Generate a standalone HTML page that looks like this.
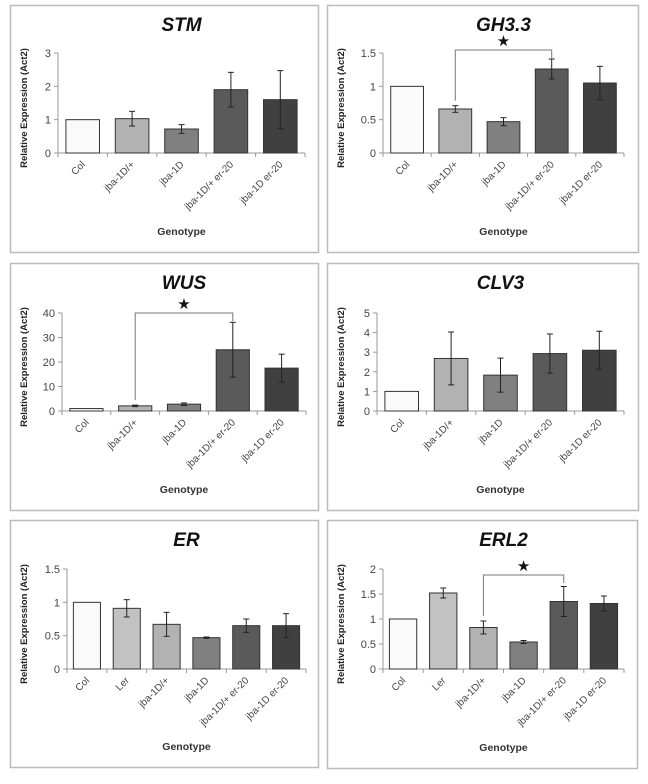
<!DOCTYPE html>
<html><head><meta charset="utf-8"><style>
body{margin:0;background:#fff;width:648px;height:779px;overflow:hidden}
svg text{font-family:"Liberation Sans",sans-serif}
</style></head><body>
<svg id="s" width="648" height="779" viewBox="0 0 648 779"></svg>
<script>
const catsA = ["Col","jba-1D/+","jba-1D","jba-1D/+ er-20","jba-1D  er-20"];
const catsB = ["Col","Ler","jba-1D/+","jba-1D","jba-1D/+ er-20","jba-1D er-20"];
const colA = ["#fafafa","#b2b2b2","#808080","#5a5a5a","#404040"];
const colB = ["#fafafa","#c2c2c2","#b2b2b2","#808080","#5a5a5a","#404040"];
const stmVals = [1,1.03,0.72,1.9,1.6];
const stmErr = [0,0.22,0.13,0.52,0.87];
const stmTicks = ["0","1","2","3"];
const ghVals = [1,0.66,0.47,1.26,1.05];
const ghErr = [0,0.05,0.06,0.15,0.25];
const ghTicks = ["0","0.5","1","1.5"];
const wusVals = [1,2.1,2.8,25,17.5];
const wusErr = [0,0.3,0.5,11.2,5.7];
const wusTicks = ["0","10","20","30","40"];
const clvVals = [1,2.68,1.83,2.93,3.1];
const clvErr = [0,1.35,0.87,1,0.97];
const clvTicks = ["0","1","2","3","4","5"];
const erVals = [1,0.91,0.67,0.47,0.65,0.65];
const erErr = [0,0.13,0.18,0.01,0.1,0.18];
const erTicks = ["0","0.5","1","1.5"];
const erl2Vals = [1,1.52,0.83,0.54,1.35,1.31];
const erl2Err = [0,0.1,0.13,0.03,0.3,0.15];
const erl2Ticks = ["0","0.5","1","1.5","2"];

const S=document.getElementById('s');const NS="http://www.w3.org/2000/svg";
function mk(t,a,p){const e=document.createElementNS(NS,t);for(const k in a)e.setAttribute(k,a[k]);(p||S).appendChild(e);return e;}
function panel(name,box,ax,title,cats,vals,errs,ticks,cols,sig){
  const g=mk('g',{});
  
  
  const r=mk('rect',{x:box[0]+.5,y:box[1]+.5,width:box[2]-box[0],height:box[3]-box[1],fill:'#fff',stroke:'#bbb','stroke-width':1.5},g);
  
  
  const cx=(box[0]+box[2])/2;
  const t=mk('text',{x:ax.x0+(ax.x1-ax.x0)/2,y:box[1]+26,'text-anchor':'middle','font-size':19,'font-weight':'bold','font-style':'italic',fill:'#111'},g);t.textContent=title;
  
  
  const max=+ticks[ticks.length-1];
  const Y=v=>ax.y0-(v/max)*(ax.y0-ax.y1);
  const n=cats.length,cw=(ax.x1-ax.x0)/n;const X=i=>ax.x0+cw*(i+.5);
  mk('line',{x1:ax.x0,y1:ax.y1,x2:ax.x0,y2:ax.y0,stroke:'#999'},g);
  mk('line',{x1:ax.x0,y1:ax.y0,x2:ax.x1,y2:ax.y0,stroke:'#999'},g);
  ticks.forEach(tk=>{const y=Y(+tk);mk('line',{x1:ax.x0-4,y1:y,x2:ax.x0,y2:y,stroke:'#999'},g);
    const l=mk('text',{x:ax.x0-7,y:y+4,'text-anchor':'end','font-size':11,fill:'#444'},g);l.textContent=tk;
    
    });
  for(let i=0;i<=n;i++){const x=ax.x0+cw*i;mk('line',{x1:x,y1:ax.y0,x2:x,y2:ax.y0+4,stroke:'#999'},g);}
  cats.forEach((c,i)=>{const bw=cw*0.68;
    const b=mk('rect',{x:X(i)-bw/2,y:Y(vals[i]),width:bw,height:ax.y0-Y(vals[i]),fill:cols[i],stroke:'#333','stroke-width':1},g);
    
    
    if(errs[i]>0){const yt=Y(vals[i]+errs[i]),yb=Y(vals[i]-errs[i]);
      mk('line',{x1:X(i),y1:yt,x2:X(i),y2:yb,stroke:'#222'},g);
      mk('line',{x1:X(i)-3,y1:yt,x2:X(i)+3,y2:yt,stroke:'#222'},g);
      mk('line',{x1:X(i)-3,y1:yb,x2:X(i)+3,y2:yb,stroke:'#222'},g);}
    const l=mk('text',{x:X(i)+3,y:ax.y0+12,'text-anchor':'end','font-size':10,fill:'#444',transform:`rotate(-45 ${X(i)+3} ${ax.y0+12})`},g);l.textContent=c;
    
    
  });
  const yl=mk('text',{x:0,y:0,'text-anchor':'middle','font-size':9.5,'font-weight':'bold',fill:'#222',transform:`translate(${box[0]+17},${(ax.y0+ax.y1)/2+5}) rotate(-90)`},g);yl.textContent='Relative Expression (Act2)';
  
  
  const xl=mk('text',{x:ax.x0+(ax.x1-ax.x0)/2,y:box[3]-17,'text-anchor':'middle','font-size':10.5,'font-weight':'bold',fill:'#333'},g);xl.textContent='Genotype';
  
  
  if(sig){const a=sig[0],b=sig[1],yy=sig[2];
    mk('polyline',{points:`${X(a)},${Y(vals[a]+errs[a])-5} ${X(a)},${yy} ${X(b)},${yy} ${X(b)},${yy+8}`,fill:'none',stroke:'#777'},g);
    const st=mk('text',{x:(X(a)+X(b))/2,y:yy-4,'text-anchor':'middle','font-size':15,fill:'#111'},g);st.textContent='★';
    
    }
}
panel('stm',[10,5,318,252],{x0:58,x1:305,y0:153,y1:53},'STM',catsA,stmVals,stmErr,stmTicks,colA,null);
panel('gh33',[327,5,638,252],{x0:383,x1:624,y0:153,y1:53},'GH3.3',catsA,ghVals,ghErr,ghTicks,colA,[1,3,50]);
panel('wus',[10,263,318,510],{x0:62,x1:306,y0:411,y1:313},'WUS',catsA,wusVals,wusErr,wusTicks,colA,[1,3,313]);
panel('clv3',[327,263,638,510],{x0:377,x1:624,y0:411,y1:313},'CLV3',catsA,clvVals,clvErr,clvTicks,colA,null);
panel('er',[10,520,318,767],{x0:67,x1:306,y0:669,y1:569},'ER',catsB,erVals,erErr,erTicks,colB,null);
panel('erl2',[327,520,637,768],{x0:383,x1:624,y0:669,y1:569},'ERL2',catsB,erl2Vals,erl2Err,erl2Ticks,colB,[2,4,575]);
</script>
</body></html>
